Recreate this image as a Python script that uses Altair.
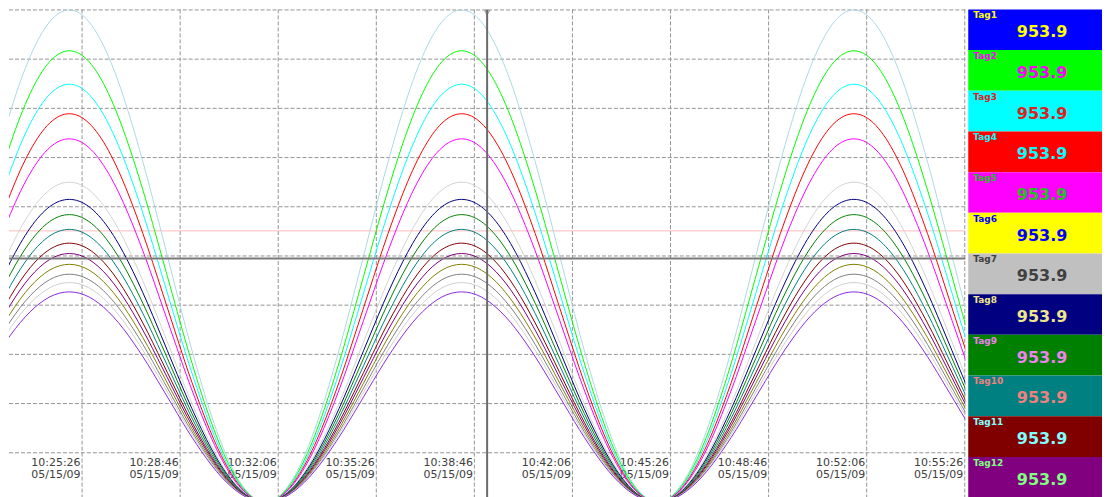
import altair as alt
import pandas as pd

# ---------------- data ----------------
tick_times = ["10:25:26", "10:28:46", "10:32:06", "10:35:26", "10:38:46",
              "10:42:06", "10:45:26", "10:48:46", "10:52:06", "10:55:26"]
tick_date = "05/15/09"
x_start = "10:22:57"
x_end = "10:55:27"

pen_names = [f"Pen{i}" for i in range(1, 16)]
pen_peaks = [100, 91.7, 84.9, 78.9, 73.8, 65.0, 61.5, 58.4, 55.4, 52.6,
             50.5, 48.3, 46.3, 44.6, 42.7]
pen_colors = ["#add8e6", "#00ff00", "#00ffff", "#ff0000", "#ff00ff",
              "#d3d3d3", "#000080", "#008000", "#008080", "#800000",
              "#800080", "#808000", "#808080", "#cfcfcf", "#8a2be2"]

# fraction of each pen's peak, read every 20 s going from a crest down to a trough
cycle_profile = [1.000, 0.994, 0.976, 0.946, 0.905, 0.854, 0.794, 0.727, 0.655, 0.578,
                 0.500, 0.422, 0.345, 0.273, 0.206, 0.146, 0.095, 0.054, 0.024, 0.006, 0.000]
peak_times = ["10:25:00", "10:38:20", "10:51:40"]
sample_start = "10:22:40"
sample_end = "10:55:40"
sample_step = 20

y_grid = [10, 20, 30, 40, 50, 60, 70, 80, 90, 100]
ref_level = 49.5
alarm_level = 55.1
cursor_time = "10:39:12"

tag_names = [f"Tag{i}" for i in range(1, 13)]
tag_values = [953.9] * 12
tag_bg = ["#0000ff", "#00ff00", "#00ffff", "#ff0000", "#ff00ff", "#ffff00",
          "#c0c0c0", "#000080", "#008000", "#008080", "#800000", "#800080"]
tag_fg = ["#ffff00", "#ff00ff", "#e02020", "#00ffff", "#20c020", "#0000ff",
          "#404040", "#f0e68c", "#ee82ee", "#f08080", "#80ffff", "#80ff80"]


def secs(s):
    h, m, sec = map(int, s.split(":"))
    return h * 3600 + m * 60 + sec


# ---------------- tables ----------------
peaks_s = [secs(p) for p in peak_times]
rows = []
t = secs(sample_start)
while t <= secs(sample_end):
    d = min(abs(t - p) for p in peaks_s)
    k = min(d // sample_step, len(cycle_profile) - 1)
    for name, pk in zip(pen_names, pen_peaks):
        rows.append({"t": t, "pen": name, "v": pk * cycle_profile[k]})
    t += sample_step
lines_df = pd.DataFrame(rows)

ticks_df = pd.DataFrame({"t": [secs(s) for s in tick_times],
                         "time": tick_times,
                         "date": [tick_date] * len(tick_times)})
ygrid_df = pd.DataFrame({"v": y_grid})
ref_df = pd.DataFrame({"v": [ref_level]})
alarm_df = pd.DataFrame({"v": [alarm_level]})
cursor_df = pd.DataFrame({"t": [secs(cursor_time)], "v": [99.4]})

W, H = 958, 489
LW = 134

xs = alt.Scale(domain=[secs(x_start), secs(x_end)], nice=False, zero=False)
ys = alt.Scale(domain=[0.9, 100.1], nice=False, zero=False)

ygrid = alt.Chart(ygrid_df).mark_rule(color="#959595", strokeDash=[4, 2], strokeWidth=1).encode(
    y=alt.Y("v:Q", scale=ys, axis=None))
xgrid = alt.Chart(ticks_df).mark_rule(color="#959595", strokeDash=[4, 2], strokeWidth=1).encode(
    x=alt.X("t:Q", scale=xs, axis=None))
alarm = alt.Chart(alarm_df).mark_rule(color="#ffbcbc", strokeWidth=1).encode(
    y=alt.Y("v:Q", scale=ys, axis=None))
lbl_time = alt.Chart(ticks_df).mark_text(align="right", baseline="alphabetic", dx=-1.5,
                                          font="DejaVu Sans", fontSize=11, color="#404040").encode(
    x=alt.X("t:Q", scale=xs, axis=None), y=alt.value(457), text="time:N")
lbl_date = alt.Chart(ticks_df).mark_text(align="right", baseline="alphabetic", dx=-1.5,
                                          font="DejaVu Sans", fontSize=11, color="#404040").encode(
    x=alt.X("t:Q", scale=xs, axis=None), y=alt.value(469), text="date:N")
pens = alt.Chart(lines_df).mark_line(clip=True, strokeWidth=1, interpolate="monotone").encode(
    x=alt.X("t:Q", scale=xs, axis=None),
    y=alt.Y("v:Q", scale=ys, axis=None),
    color=alt.Color("pen:N", scale=alt.Scale(domain=pen_names, range=pen_colors), legend=None),
    order=alt.Order("t:Q"))
ref = alt.Chart(ref_df).mark_rule(color="#7a7a7a", strokeWidth=2).encode(
    y=alt.Y("v:Q", scale=ys, axis=None))
cursor = alt.Chart(cursor_df).mark_rule(color="#6a6a6a", strokeWidth=2).encode(
    x=alt.X("t:Q", scale=xs, axis=None))
cursor_tri = alt.Chart(cursor_df).mark_point(shape="triangle-down", filled=False, size=25,
                                             color="#6a6a6a", strokeWidth=1).encode(
    x=alt.X("t:Q", scale=xs, axis=None), y=alt.Y("v:Q", scale=ys, axis=None))

plot = alt.layer(ygrid, xgrid, alarm, lbl_time, lbl_date, pens, ref, cursor, cursor_tri).properties(
    width=W, height=H)

leg_df = pd.DataFrame({"tag": tag_names, "val": tag_values, "bg": tag_bg, "fg": tag_fg})
Yb = alt.Y("tag:N", sort=tag_names, scale=alt.Scale(paddingInner=0, paddingOuter=0), axis=None)
boxes = alt.Chart(leg_df).mark_rect().encode(
    y=Yb, x=alt.value(0), x2=alt.value(LW), fill=alt.Fill("bg:N", scale=None))
tag_txt = alt.Chart(leg_df).mark_text(align="left", baseline="alphabetic", dy=-11.4,
                                      font="DejaVu Sans", fontSize=9, fontWeight="bold").encode(
    y=Yb, x=alt.value(5), text="tag:N", color=alt.Color("fg:N", scale=None))
val_txt = alt.Chart(leg_df).mark_text(align="center", baseline="alphabetic", dy=7.6,
                                      font="DejaVu Sans", fontSize=16, fontWeight="bold").encode(
    y=Yb, x=alt.value(74), text=alt.Text("val:Q", format=".1f"), color=alt.Color("fg:N", scale=None))
legend = alt.layer(boxes, tag_txt, val_txt).properties(width=LW, height=H)

chart = alt.hconcat(plot, legend, spacing=2).properties(padding=0).configure_view(strokeWidth=0)

chart.save("out.html", embed_options={"renderer": "svg", "actions": False})
